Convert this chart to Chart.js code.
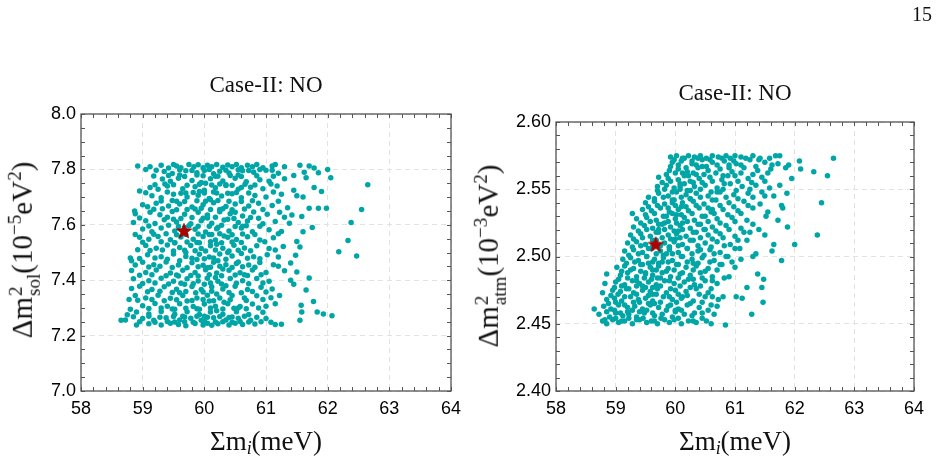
<!DOCTYPE html>
<html><head><meta charset="utf-8">
<script src="https://cdn.jsdelivr.net/npm/chart.js@4.4.1/dist/chart.umd.min.js"></script>
<style>
html,body{margin:0;padding:0;background:#fff;}
#wrap{position:relative;width:938px;height:466px;overflow:hidden;background:#fff;}
canvas{position:absolute;top:0;}
.t{position:absolute;font-family:"Liberation Serif","DejaVu Serif",serif;color:#111;white-space:nowrap;}
.title{font-size:23px;line-height:23px;transform:translateX(-50%);}
.xl{font-size:27px;line-height:27px;transform:translateX(-50%);}
.yl{font-size:29px;line-height:29px;transform:translate(-50%,-50%) rotate(-90deg);}
.ss{display:inline-flex;flex-direction:column;font-size:0.66em;line-height:0.95;vertical-align:0.5em;margin-left:1px;}
sup{font-size:0.66em;vertical-align:0.55em;line-height:0;}
sub{font-size:0.66em;vertical-align:-0.25em;line-height:0;}
</style></head>
<body><div id="wrap">
<canvas id="c1" width="470" height="466" style="left:0px"></canvas>
<canvas id="c2" width="468" height="466" style="left:470px"></canvas>
<div class="t" style="left:912px;top:4px;font-size:20px;line-height:20px;">15</div>
<div class="t title" style="left:266px;top:73px;">Case-II: NO</div>
<div class="t title" style="left:735px;top:81px;">Case-II: NO</div>
<div class="t xl" style="left:266px;top:428px;">Σm<sub><i>i</i></sub>(meV)</div>
<div class="t xl" style="left:735px;top:428px;">Σm<sub><i>i</i></sub>(meV)</div>
<div class="t yl" style="left:25px;top:250px;">Δm<span class="ss"><span>2</span><span>sol</span></span>(10<sup>−5</sup>eV<sup>2</sup>)</div>
<div class="t yl" style="left:491px;top:256px;">Δm<span class="ss"><span>2</span><span>atm</span></span>(10<sup>−3</sup>eV<sup>2</sup>)</div>
</div>
<script>
// ---------- data ----------
const xTicks = [58, 59, 60, 61, 62, 63, 64];
const solTicks = [7.0, 7.2, 7.4, 7.6, 7.8, 8.0];
const atmTicks = [2.40, 2.45, 2.50, 2.55, 2.60];
const solBest = [59.67, 7.578];
const atmBest = [59.67, 2.509];

const solPts = [
[59.12,7.81],[59.3,7.815],[59.42,7.805],[59.5,7.818],[59.55,7.812],[59.62,7.806],[59.75,7.818],[59.83,7.81],[59.9,7.817],[59.98,7.806],[60.05,7.815],[60.12,7.81],[60.2,7.818],[60.3,7.808],[60.38,7.816],[60.45,7.81],[60.52,7.818],[60.6,7.806],[60.7,7.815],[60.78,7.81],[60.85,7.818],[60.95,7.806],[61.1,7.812],[61.15,7.818],[61.3,7.81],[61.55,7.815],[61.7,7.812],[61.78,7.805],
[58.92,7.812],[59.05,7.8],[59.35,7.792],[59.48,7.785],[59.7,7.795],[59.88,7.788],[60.0,7.796],[60.15,7.784],[60.25,7.793],[60.4,7.787],[60.62,7.795],[60.8,7.79],[61.0,7.797],[61.2,7.786],[61.62,7.79],[61.85,7.788],[62.0,7.8],
[59.32,7.765],[59.45,7.757],[59.58,7.768],[59.8,7.76],[59.95,7.753],[60.1,7.766],[60.3,7.758],[60.5,7.768],[60.68,7.755],[60.9,7.763],[61.05,7.757],[61.3,7.766],[61.65,7.77],[62.05,7.77],
[58.95,7.722],[59.12,7.735],[59.25,7.728],[59.4,7.74],[59.65,7.73],[59.85,7.737],[60.0,7.725],[60.18,7.734],[60.35,7.742],[60.55,7.728],[60.75,7.736],[60.95,7.73],[61.18,7.74],[61.45,7.725],[61.9,7.72],[61.78,7.735],
[59.15,7.705],[59.3,7.698],[59.5,7.71],[59.72,7.7],[59.9,7.707],[60.08,7.695],[60.28,7.704],[60.45,7.712],[60.6,7.698],[60.82,7.706],[61.0,7.7],[61.25,7.71],[61.5,7.705],[61.6,7.7],
[59.0,7.672],[59.08,7.665],[59.22,7.678],[59.42,7.668],[59.6,7.675],[59.8,7.664],[59.98,7.672],[60.15,7.68],[60.35,7.666],[60.5,7.675],[60.72,7.668],[60.88,7.678],[61.1,7.67],[61.35,7.662],[61.7,7.66],[61.85,7.66],[61.98,7.66],
[58.87,7.65],[58.88,7.64],[59.12,7.645],[59.28,7.636],[59.48,7.648],[59.68,7.638],[59.9,7.645],[60.05,7.635],[60.25,7.647],[60.42,7.64],[60.62,7.632],[60.8,7.646],[61.02,7.638],[61.22,7.645],[61.42,7.635],[61.58,7.63],
[58.85,7.608],[59.05,7.615],[59.2,7.605],[59.35,7.618],[59.55,7.61],[59.78,7.604],[59.95,7.615],[60.12,7.606],[60.32,7.617],[60.55,7.608],[60.7,7.614],[60.95,7.604],[61.15,7.612],[61.38,7.606],[62.38,7.608],
[59.0,7.585],[59.15,7.575],[59.3,7.588],[59.52,7.578],[59.85,7.584],[60.02,7.574],[60.2,7.586],[60.4,7.578],[60.6,7.588],[60.78,7.575],[61.05,7.582],[61.25,7.576],[61.6,7.575],[61.75,7.59],
[58.88,7.565],[58.95,7.555],[59.1,7.548],[59.25,7.558],[59.45,7.546],[59.62,7.556],[59.82,7.548],[59.98,7.558],[60.18,7.545],[60.38,7.555],[60.52,7.547],[60.7,7.557],[60.9,7.545],[61.12,7.553],[61.5,7.54],[62.33,7.543],
[58.92,7.51],[59.05,7.525],[59.22,7.515],[59.4,7.527],[59.6,7.518],[59.78,7.525],[59.95,7.514],[60.1,7.524],[60.3,7.515],[60.48,7.526],[60.65,7.516],[60.85,7.524],[61.05,7.514],[61.28,7.522],[61.55,7.52],[62.18,7.503],
[58.8,7.48],[58.82,7.47],[59.08,7.492],[59.3,7.485],[59.5,7.495],[59.7,7.486],[59.92,7.494],[60.08,7.484],[60.25,7.495],[60.45,7.487],[60.6,7.496],[60.8,7.485],[61.02,7.492],[61.2,7.484],[61.48,7.49],[62.47,7.487],
[58.88,7.455],[59.0,7.465],[59.18,7.456],[59.38,7.466],[59.58,7.455],[59.8,7.463],[59.98,7.454],[60.15,7.465],[60.35,7.456],[60.55,7.466],[60.72,7.455],[60.9,7.464],[61.12,7.456],[61.4,7.462],
[58.82,7.435],[59.05,7.428],[59.22,7.437],[59.45,7.426],[59.65,7.436],[59.85,7.428],[60.02,7.438],[60.2,7.426],[60.4,7.436],[60.58,7.427],[60.78,7.437],[61.0,7.428],[61.3,7.434],[61.5,7.43],
[58.85,7.405],[59.1,7.398],[59.3,7.407],[59.5,7.396],[59.72,7.405],[59.9,7.397],[60.05,7.407],[60.22,7.396],[60.42,7.406],[60.62,7.398],[60.85,7.406],[61.05,7.396],[61.4,7.4],[61.7,7.408],
[58.82,7.37],[58.95,7.378],[59.15,7.366],[59.35,7.376],[59.55,7.367],[59.8,7.377],[59.95,7.366],[60.12,7.376],[60.3,7.368],[60.5,7.378],[60.7,7.366],[60.92,7.375],[61.1,7.368],[61.45,7.385],[61.65,7.365],
[58.78,7.33],[58.88,7.345],[59.05,7.336],[59.25,7.346],[59.45,7.335],[59.65,7.345],[59.88,7.336],[60.05,7.346],[60.25,7.336],[60.45,7.345],[60.65,7.336],[60.85,7.344],[61.08,7.337],[61.22,7.345],
[58.8,7.295],[59.0,7.308],[59.2,7.316],[59.4,7.306],[59.6,7.315],[59.82,7.305],[60.0,7.314],[60.18,7.306],[60.38,7.315],[60.58,7.305],[60.78,7.314],[61.0,7.306],[61.15,7.315],[61.57,7.31],[61.77,7.323],
[58.75,7.275],[58.9,7.285],[59.1,7.278],[59.3,7.287],[59.52,7.277],[59.72,7.286],[59.92,7.276],[60.1,7.285],[60.3,7.277],[60.52,7.286],[60.72,7.276],[60.95,7.284],[61.58,7.285],[61.83,7.285],[61.93,7.278],[62.07,7.272],
[58.65,7.255],[58.72,7.256],[59.0,7.262],[59.18,7.255],[59.38,7.264],[59.6,7.256],[59.78,7.263],[59.95,7.255],[60.15,7.264],[60.35,7.256],[60.55,7.263],[60.75,7.255],[61.0,7.262],[61.55,7.255],
[58.9,7.238],[59.1,7.243],[59.3,7.238],[59.45,7.245],[59.58,7.24],[59.7,7.236],[59.85,7.244],[59.98,7.238],[60.05,7.245],[60.12,7.237],[60.22,7.243],[60.4,7.238],[60.5,7.245],[60.62,7.24],[60.82,7.242],[61.15,7.24],[61.25,7.241],
[62.65,7.745],[62.55,7.655],
[59.88,7.78],[60.02,7.75],[59.92,7.72],[60.1,7.69],[59.95,7.66],[60.05,7.625],[59.9,7.595],[60.08,7.565],[59.92,7.535],[60.02,7.505],[59.88,7.475],[60.05,7.445],[59.9,7.415],[60.0,7.385],[59.86,7.355],[60.08,7.325],[59.92,7.295],[60.0,7.27],
[60.22,7.775],[60.35,7.745],[60.2,7.715],[60.4,7.685],[60.25,7.655],[60.38,7.62],[60.22,7.59],[60.32,7.56],[60.2,7.53],[60.38,7.5],[60.22,7.47],[60.3,7.44],[60.18,7.41],[60.35,7.38],[60.2,7.35],[60.32,7.32],[60.2,7.29],[60.4,7.265],
[59.6,7.78],[59.5,7.745],[59.7,7.715],[59.55,7.685],[59.72,7.655],[59.5,7.62],[59.68,7.59],[59.7,7.565],[59.52,7.535],[59.7,7.5],[59.6,7.47],[59.72,7.445],[59.58,7.415],[59.68,7.385],[59.6,7.355],[59.72,7.325],[59.52,7.295],[59.65,7.27],
[60.55,7.78],[60.6,7.735],[60.5,7.645],[60.62,7.595],[60.52,7.46],[60.65,7.42],[60.6,7.355],[60.55,7.3],
[59.22,7.797],[59.6,7.799],[59.8,7.796],[60.08,7.8],[60.35,7.797],[60.55,7.799],[60.72,7.796],[60.9,7.8],[61.1,7.797],
[59.18,7.776],[59.42,7.778],[59.68,7.774],[59.98,7.777],[60.18,7.775],[60.42,7.778],[60.6,7.774],[60.85,7.777],[61.12,7.775],[61.45,7.778],
[59.2,7.745],[59.36,7.747],[59.72,7.743],[59.92,7.746],[60.12,7.744],[60.25,7.747],[60.45,7.743],[60.66,7.746],[60.82,7.744],[61.08,7.747],
[59.05,7.716],[59.4,7.718],[59.62,7.714],[59.82,7.717],[60.0,7.715],[60.15,7.718],[60.38,7.714],[60.52,7.717],[60.72,7.715],[61.12,7.718],
[59.3,7.686],[59.48,7.688],[59.68,7.684],[59.88,7.687],[60.02,7.685],[60.22,7.688],[60.6,7.684],[60.78,7.687],[61.2,7.685],
[59.18,7.656],[59.32,7.658],[59.55,7.654],[59.85,7.657],[60.1,7.655],[60.3,7.658],[60.45,7.654],[60.65,7.657],[60.95,7.655],
[58.95,7.625],[59.4,7.627],[59.62,7.623],[59.8,7.626],[59.98,7.624],[60.18,7.627],[60.48,7.623],[60.75,7.626],[60.88,7.624],[61.3,7.627],
[59.1,7.596],[59.42,7.598],[59.58,7.594],[59.75,7.597],[60.08,7.595],[60.28,7.598],[60.5,7.594],[60.68,7.597],[60.9,7.595],
[59.18,7.566],[59.38,7.568],[59.55,7.564],[59.9,7.567],[60.12,7.565],[60.25,7.568],[60.45,7.564],[60.62,7.567],[60.82,7.565],[61.2,7.568],
[59.0,7.537],[59.3,7.539],[59.52,7.535],[59.72,7.538],[59.88,7.536],[60.1,7.539],[60.28,7.535],[60.45,7.538],[60.6,7.536],[60.98,7.539],
[59.12,7.507],[59.32,7.509],[59.5,7.505],[59.68,7.508],[59.85,7.506],[60.18,7.509],[60.4,7.505],[60.55,7.508],[60.75,7.506],[61.15,7.509],
[58.95,7.478],[59.2,7.48],[59.4,7.476],[59.8,7.479],[60.0,7.477],[60.15,7.48],[60.35,7.476],[60.7,7.479],[60.9,7.477],
[59.1,7.448],[59.28,7.45],[59.48,7.446],[59.9,7.449],[60.1,7.447],[60.25,7.45],[60.45,7.446],[60.62,7.449],[60.82,7.447],[61.2,7.45],
[58.95,7.418],[59.15,7.42],[59.38,7.416],[59.55,7.419],[59.78,7.417],[60.08,7.42],[60.28,7.416],[60.5,7.419],[60.7,7.417],[60.92,7.42],
[59.0,7.388],[59.2,7.39],[59.42,7.386],[59.62,7.389],[59.82,7.387],[60.1,7.39],[60.28,7.386],[60.52,7.389],[60.72,7.387],[60.95,7.39],
[59.08,7.358],[59.28,7.36],[59.48,7.356],[59.7,7.359],[59.98,7.357],[60.12,7.36],[60.4,7.356],[60.78,7.359],[61.0,7.357],
[58.92,7.328],[59.15,7.33],[59.35,7.326],[59.55,7.329],[59.8,7.327],[59.98,7.33],[60.15,7.326],[60.42,7.329],[60.68,7.327],[60.95,7.33],
[59.1,7.298],[59.3,7.3],[59.48,7.296],[59.7,7.299],[59.88,7.297],[60.1,7.3],[60.3,7.296],[60.48,7.299],[60.68,7.297],[60.88,7.3],
[58.85,7.268],[59.1,7.27],[59.28,7.266],[59.5,7.269],[59.68,7.267],[59.88,7.27],[60.05,7.266],[60.25,7.269],[60.45,7.267],[60.65,7.27],[60.85,7.266],
[58.95,7.25],[59.2,7.248],[59.4,7.251],[59.52,7.249],[59.68,7.25],[59.82,7.248],[60.0,7.251],[60.18,7.249],[60.3,7.25],[60.45,7.248],[60.58,7.251],[60.72,7.249],[60.92,7.25],[61.08,7.248]
];

const atmPts = [
[58.78,2.452],[58.85,2.45],[58.95,2.453],[59.05,2.451],[59.15,2.452],[59.28,2.45],[59.4,2.453],[59.52,2.451],[59.6,2.452],[59.7,2.45],[59.82,2.453],[59.9,2.451],[60.1,2.45],[60.22,2.452],[60.35,2.451],[60.52,2.452],[60.6,2.45],[60.84,2.449],
[58.72,2.457],[58.9,2.455],[59.0,2.458],[59.12,2.456],[59.22,2.457],[59.35,2.455],[59.48,2.458],[59.65,2.456],[59.78,2.457],[59.95,2.455],[60.15,2.457],[60.28,2.456],[60.45,2.458],[60.65,2.457],
[58.64,2.461],[58.8,2.463],[58.92,2.461],[59.05,2.464],[59.2,2.462],[59.32,2.463],[59.45,2.461],[59.58,2.464],[59.72,2.462],[59.88,2.463],[60.05,2.461],[60.2,2.464],[60.4,2.462],[60.7,2.463],[61.28,2.457],
[58.85,2.468],[58.98,2.469],[59.1,2.467],[59.25,2.47],[59.38,2.468],[59.5,2.469],[59.62,2.467],[59.8,2.47],[59.95,2.468],[60.1,2.469],[60.3,2.467],[60.5,2.47],[60.72,2.468],[61.47,2.466],
[58.78,2.473],[58.95,2.475],[59.08,2.474],[59.18,2.476],[59.3,2.473],[59.45,2.475],[59.58,2.474],[59.7,2.476],[59.85,2.473],[60.0,2.475],[60.18,2.474],[60.35,2.476],[60.55,2.473],[60.8,2.47],[61.02,2.47],[61.12,2.469],
[58.82,2.48],[59.0,2.481],[59.15,2.479],[59.28,2.482],[59.4,2.48],[59.55,2.481],[59.68,2.479],[59.82,2.482],[59.98,2.48],[60.15,2.481],[60.32,2.479],[60.5,2.482],[60.7,2.48],[61.2,2.477],[61.45,2.477],
[58.85,2.487],[59.08,2.486],[59.2,2.488],[59.35,2.485],[59.5,2.487],[59.62,2.486],[59.78,2.488],[59.92,2.485],[60.08,2.487],[60.25,2.486],[60.42,2.488],[60.62,2.485],[60.9,2.485],[61.38,2.487],
[59.02,2.492],[59.15,2.493],[59.3,2.491],[59.42,2.494],[59.58,2.492],[59.72,2.493],[59.88,2.491],[60.02,2.494],[60.18,2.492],[60.35,2.493],[60.55,2.491],[60.78,2.494],[61.0,2.492],[61.48,2.483],
[59.12,2.498],[59.25,2.499],[59.38,2.497],[59.52,2.5],[59.65,2.498],[59.8,2.499],[59.95,2.497],[60.1,2.5],[60.28,2.498],[60.45,2.499],[60.65,2.497],[60.85,2.5],[61.1,2.498],[61.3,2.5],[61.78,2.497],
[59.15,2.504],[59.3,2.505],[59.45,2.503],[59.6,2.506],[59.75,2.504],[59.9,2.505],[60.05,2.503],[60.2,2.506],[60.38,2.504],[60.58,2.505],[60.75,2.503],[61.0,2.506],[61.35,2.502],[61.62,2.504],
[59.2,2.51],[59.35,2.511],[59.5,2.509],[59.68,2.512],[59.82,2.51],[59.98,2.511],[60.12,2.509],[60.3,2.512],[60.5,2.51],[60.7,2.511],[60.92,2.509],[61.2,2.512],[61.65,2.509],[62.0,2.509],
[59.25,2.516],[59.42,2.517],[59.58,2.515],[59.72,2.518],[59.88,2.516],[60.02,2.517],[60.18,2.515],[60.35,2.518],[60.55,2.516],[60.75,2.517],[61.0,2.515],[61.25,2.518],[61.5,2.516],[62.38,2.516],
[59.3,2.522],[59.48,2.523],[59.62,2.521],[59.78,2.524],[59.92,2.522],[60.08,2.523],[60.25,2.521],[60.42,2.524],[60.62,2.522],[60.85,2.523],[61.1,2.521],[61.4,2.52],[61.88,2.522],
[59.35,2.528],[59.52,2.529],[59.68,2.527],[59.85,2.53],[60.0,2.528],[60.15,2.529],[60.32,2.527],[60.5,2.53],[60.7,2.528],[60.95,2.529],[61.2,2.527],[61.52,2.53],
[59.28,2.532],[59.45,2.535],[59.6,2.534],[59.75,2.536],[59.9,2.533],[60.05,2.535],[60.22,2.534],[60.4,2.536],[60.6,2.533],[60.8,2.535],[61.05,2.534],[61.3,2.536],[61.55,2.533],[61.72,2.527],[62.45,2.54],
[59.5,2.54],[59.65,2.541],[59.82,2.539],[59.98,2.542],[60.12,2.54],[60.3,2.541],[60.48,2.539],[60.68,2.542],[60.9,2.54],[61.15,2.541],[61.42,2.539],[61.78,2.538],[61.8,2.536],
[59.55,2.544],[59.72,2.547],[59.88,2.545],[60.02,2.548],[60.18,2.546],[60.35,2.547],[60.55,2.545],[60.75,2.548],[60.98,2.546],[61.22,2.547],[61.5,2.545],[61.65,2.545],[61.87,2.547],
[59.7,2.552],[59.85,2.553],[59.98,2.551],[60.15,2.554],[60.32,2.552],[60.5,2.553],[60.7,2.551],[60.92,2.554],[61.12,2.552],[61.35,2.553],[61.58,2.551],[61.75,2.553],
[59.72,2.559],[59.88,2.558],[60.05,2.557],[60.22,2.56],[60.4,2.558],[60.58,2.559],[60.78,2.557],[61.0,2.56],[61.22,2.558],[61.45,2.559],[61.95,2.558],[62.55,2.56],
[59.9,2.564],[60.05,2.565],[60.2,2.563],[60.38,2.566],[60.55,2.564],[60.75,2.565],[60.95,2.563],[61.15,2.566],[61.38,2.564],[61.6,2.565],[61.85,2.566],[62.1,2.565],[62.32,2.563],
[59.95,2.57],[60.1,2.571],[60.28,2.569],[60.45,2.572],[60.62,2.57],[60.82,2.571],[61.02,2.569],[61.25,2.572],[61.5,2.57],[61.72,2.569],[61.9,2.568],[62.08,2.571],
[59.92,2.574],[60.02,2.575],[60.12,2.573],[60.22,2.575],[60.32,2.574],[60.42,2.575],[60.52,2.573],[60.62,2.575],[60.72,2.574],[60.85,2.575],[60.92,2.573],[61.0,2.575],[61.1,2.574],[61.3,2.575],[61.42,2.573],[61.68,2.575],[61.75,2.575],[62.65,2.573],
[59.45,2.46],[59.55,2.465],[59.62,2.472],[59.5,2.477],[59.7,2.484],[59.62,2.49],[59.78,2.496],[59.85,2.502],[59.9,2.507],[60.0,2.513],[60.05,2.519],[60.12,2.525],[60.02,2.531],[60.1,2.537],[60.25,2.543],[60.2,2.549],[60.3,2.555],[60.35,2.561],[60.45,2.567],
[59.2,2.459],[59.3,2.466],[59.35,2.478],[59.42,2.489],[59.55,2.495],[59.62,2.507],[59.72,2.52],[59.82,2.525],[59.95,2.54],[60.08,2.552],[60.12,2.562],
[60.0,2.46],[60.12,2.47],[60.22,2.483],[60.3,2.495],[60.42,2.505],[60.5,2.52],[60.62,2.535],[60.7,2.548],[60.8,2.56],[60.9,2.568],
[58.82,2.453],[59.0,2.454],[59.1,2.452],[59.22,2.454],[59.35,2.453],[59.46,2.454],[59.65,2.452],[59.76,2.454],[59.98,2.453],[60.05,2.454],[60.3,2.452],[60.45,2.454],
[58.85,2.459],[58.98,2.46],[59.08,2.458],[59.28,2.46],[59.4,2.459],[59.52,2.46],[59.62,2.458],[59.85,2.46],[60.0,2.459],[60.1,2.46],[60.32,2.458],[60.55,2.46],
[58.88,2.465],[59.0,2.466],[59.15,2.464],[59.4,2.466],[59.65,2.465],[59.75,2.466],[59.92,2.464],[60.02,2.466],[60.25,2.465],[60.45,2.466],[60.6,2.464],
[58.92,2.471],[59.04,2.472],[59.15,2.47],[59.35,2.472],[59.55,2.471],[59.68,2.472],[59.9,2.47],[60.05,2.472],[60.2,2.471],[60.4,2.472],[60.62,2.47],
[58.98,2.477],[59.1,2.478],[59.22,2.476],[59.45,2.478],[59.62,2.477],[59.75,2.478],[59.92,2.476],[60.08,2.478],[60.25,2.477],[60.42,2.478],[60.6,2.476],
[59.05,2.483],[59.2,2.484],[59.35,2.482],[59.48,2.484],[59.6,2.483],[59.75,2.484],[59.9,2.482],[60.05,2.484],[60.3,2.483],[60.45,2.484],[60.62,2.482],[60.82,2.484],
[59.1,2.489],[59.25,2.49],[59.5,2.488],[59.68,2.49],[59.85,2.489],[59.98,2.49],[60.12,2.488],[60.3,2.49],[60.5,2.489],[60.7,2.49],
[59.18,2.495],[59.32,2.496],[59.45,2.494],[59.62,2.496],[59.72,2.495],[59.88,2.496],[60.05,2.494],[60.2,2.496],[60.38,2.495],[60.58,2.496],[60.75,2.494],[60.95,2.496],
[59.22,2.501],[59.38,2.502],[59.52,2.5],[59.68,2.502],[59.8,2.501],[59.95,2.502],[60.12,2.5],[60.28,2.502],[60.48,2.501],[60.65,2.502],[60.88,2.5],
[59.28,2.507],[59.42,2.508],[59.55,2.506],[59.75,2.508],[59.9,2.507],[60.05,2.508],[60.2,2.506],[60.38,2.508],[60.6,2.507],[60.82,2.508],[61.08,2.506],
[59.3,2.513],[59.45,2.514],[59.62,2.512],[59.78,2.514],[59.92,2.513],[60.08,2.514],[60.25,2.512],[60.42,2.514],[60.62,2.513],[60.8,2.514],[61.05,2.512],
[59.38,2.519],[59.52,2.52],[59.68,2.518],[59.82,2.52],[59.98,2.519],[60.12,2.52],[60.3,2.518],[60.48,2.52],[60.68,2.519],[60.9,2.52],[61.15,2.518],
[59.42,2.525],[59.58,2.526],[59.72,2.524],[59.88,2.526],[60.02,2.525],[60.2,2.526],[60.38,2.524],[60.55,2.526],[60.75,2.525],[61.0,2.526],[61.3,2.524],
[59.5,2.531],[59.65,2.532],[59.8,2.53],[59.95,2.532],[60.1,2.531],[60.28,2.532],[60.45,2.53],[60.65,2.532],[60.88,2.531],[61.1,2.532],
[59.55,2.537],[59.7,2.538],[59.88,2.536],[60.0,2.538],[60.18,2.537],[60.35,2.538],[60.55,2.536],[60.75,2.538],[60.98,2.537],[61.22,2.538],
[59.65,2.543],[59.8,2.544],[59.95,2.542],[60.1,2.544],[60.25,2.543],[60.42,2.544],[60.62,2.542],[60.85,2.544],[61.05,2.543],[61.3,2.544],
[59.7,2.549],[59.82,2.55],[59.95,2.548],[60.08,2.55],[60.25,2.549],[60.42,2.55],[60.6,2.548],[60.8,2.55],[61.02,2.549],[61.25,2.55],[61.45,2.548],
[59.78,2.555],[59.92,2.556],[60.08,2.554],[60.25,2.556],[60.45,2.555],[60.62,2.556],[60.82,2.554],[61.05,2.556],[61.28,2.555],[61.5,2.556],
[59.85,2.561],[60.0,2.562],[60.15,2.56],[60.3,2.562],[60.48,2.561],[60.68,2.562],[60.88,2.56],[61.1,2.562],[61.3,2.561],[61.55,2.562],
[59.92,2.567],[60.05,2.568],[60.18,2.566],[60.35,2.568],[60.52,2.567],[60.7,2.568],[60.9,2.566],[61.1,2.568],[61.35,2.567],[61.62,2.568],
[59.98,2.572],[60.15,2.573],[60.28,2.571],[60.38,2.573],[60.58,2.572],[60.78,2.573],[60.98,2.571],[61.18,2.573],[61.4,2.572],[61.58,2.573]
];

// ---------- styling ----------
const TEAL = '#00A6A6';
const STAR = '#B00000';

const starImg = document.createElement('canvas');
starImg.width = 18; starImg.height = 18;
(function(){
  const c = starImg.getContext('2d');
  const cx = 9, cy = 9.5, R = 8.2, r = 3.4;
  c.beginPath();
  for (let i = 0; i < 10; i++) {
    const a = -Math.PI/2 + i*Math.PI/5;
    const rr = i % 2 ? r : R;
    const px = cx + rr*Math.cos(a), py = cy + rr*Math.sin(a);
    i ? c.lineTo(px, py) : c.moveTo(px, py);
  }
  c.closePath();
  c.fillStyle = STAR; c.fill();
  c.strokeStyle = '#8a0000'; c.lineWidth = 0.6; c.stroke();
})();

const framePlugin = {
  id: 'frame',
  afterDraw(chart, args, opts) {
    const {ctx, chartArea: a, scales: {x, y}} = chart;
    ctx.save();
    ctx.strokeStyle = '#555';
    ctx.lineWidth = 1;
    const L = 4;
    ctx.beginPath();
    const nx = Math.round((x.max - x.min) / opts.xStep);
    for (let i = 0; i <= nx; i++) {
      const px = Math.round(x.getPixelForValue(x.min + i*opts.xStep)) + 0.5;
      ctx.moveTo(px, a.bottom); ctx.lineTo(px, a.bottom - L);
      ctx.moveTo(px, a.top); ctx.lineTo(px, a.top + L);
    }
    const ny = Math.round((y.max - y.min) / opts.yStep);
    for (let i = 0; i <= ny; i++) {
      const py = Math.round(y.getPixelForValue(y.min + i*opts.yStep)) + 0.5;
      ctx.moveTo(a.left, py); ctx.lineTo(a.left + L, py);
      ctx.moveTo(a.right, py); ctx.lineTo(a.right - L, py);
    }
    ctx.stroke();
    ctx.lineWidth = 1.3;
    ctx.strokeStyle = '#555';
    ctx.strokeRect(a.left, a.top, a.right - a.left, a.bottom - a.top);
    ctx.restore();
  }
};

function makeChart(id, pts, best, yTicks, yStep, dec, pad, yW) {
  new Chart(document.getElementById(id), {
    type: 'scatter',
    data: { datasets: [
      { data: [{x: best[0], y: best[1]}], pointStyle: starImg, pointRadius: 9, order: 0 },
      { data: pts.map(p => ({x: p[0], y: p[1]})), backgroundColor: TEAL, borderWidth: 0,
        pointRadius: 2.75, pointHoverRadius: 2.75, order: 1 }
    ]},
    options: {
      responsive: false, animation: false, events: [],
      layout: { padding: pad },
      plugins: { legend: {display: false}, tooltip: {enabled: false}, frame: {xStep: 0.2, yStep: yStep} },
      scales: {
        x: {
          type: 'linear', min: xTicks[0], max: xTicks[xTicks.length-1],
          afterBuildTicks: s => { s.ticks = xTicks.map(v => ({value: v})); },
          afterFit: s => { s.height = 75; s.paddingLeft = 0; s.paddingRight = 0; },
          grid: { color: '#e2e2e2', lineWidth: 1, drawTicks: false },
          border: { display: false, dash: [5, 4] },
          ticks: { font: {family: '"Liberation Sans", Arial, sans-serif', size: 18}, color: '#000',
                   padding: 7, maxRotation: 0, autoSkip: false, callback: v => String(v) }
        },
        y: {
          type: 'linear', min: yTicks[0], max: yTicks[yTicks.length-1],
          afterBuildTicks: s => { s.ticks = yTicks.map(v => ({value: v})); },
          afterFit: s => { s.width = yW; s.paddingTop = 0; s.paddingBottom = 0; },
          grid: { color: '#e2e2e2', lineWidth: 1, drawTicks: false },
          border: { display: false, dash: [5, 4] },
          ticks: { font: {family: '"Liberation Sans", Arial, sans-serif', size: 18}, color: '#000',
                   padding: 5, autoSkip: false, callback: v => Number(v).toFixed(dec) }
        }
      }
    },
    plugins: [framePlugin]
  });
}

makeChart('c1', solPts, solBest, solTicks, 0.05, 1, {left: 0, top: 114, right: 19, bottom: 0}, 81);
makeChart('c2', atmPts, atmBest, atmTicks, 0.01, 2, {left: 0, top: 122, right: 24, bottom: 0}, 86);
</script>
</body></html>
